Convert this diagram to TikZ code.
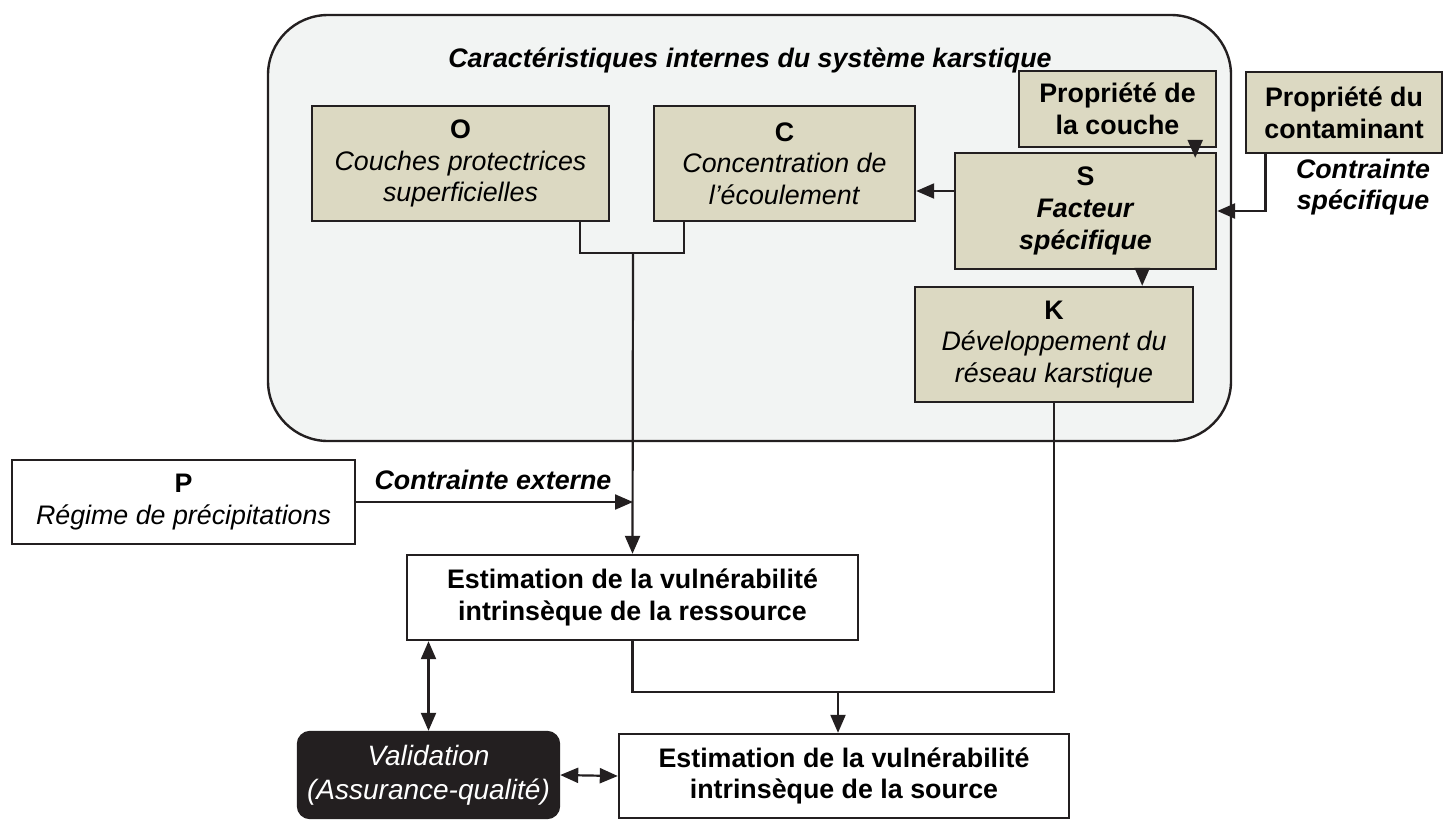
\documentclass[tikz,border=0pt]{standalone}
\usepackage{fontspec}
\setmainfont{Liberation Sans}
\usetikzlibrary{arrows.meta}
\definecolor{khaki}{RGB}{220,217,194}
\definecolor{pale}{RGB}{242,244,243}
\definecolor{ink}{RGB}{35,31,32}

\begin{document}
\begin{tikzpicture}[x=0.5pt,y=-0.5pt,
    every node/.style={font=\fontsize{13.4}{15.8}\selectfont, align=center, inner sep=0pt},
    factor/.style={draw=ink, line width=1.2pt, fill=khaki},
    result/.style={draw=ink, line width=1.2pt, fill=white},
    link/.style={draw=ink, line width=1.1pt},
    arr/.style={link, -{Triangle[length=9pt,width=7.5pt]}},
    biarr/.style={link, {Triangle[length=9pt,width=7.5pt]}-{Triangle[length=9pt,width=7.5pt]}}]
	%%%%% START %%%%%
	\useasboundingbox (0,0) rectangle (1443,820);
	
	% systeme karstique
	\draw[draw=ink, line width=1.2pt, fill=pale, rounded corners=30pt] (268,15) rectangle (1231,441);
	\node (title) at (750,60) {\textbf{\textit{Caractéristiques internes du système karstique}}};
	
	\node[factor, minimum width=148.5pt, minimum height=57.5pt] (O) at (460.5,163.5)
		{\textbf{O}\\\textit{Couches protectrices}\\\textit{superficielles}};
	\node[factor, minimum width=130.5pt, minimum height=57.5pt] (C) at (784.5,163.5)
		{\textbf{C}\\\textit{Concentration de}\\\textit{l’écoulement}};
	\node[factor, minimum width=98.5pt, minimum height=38pt] (couche) at (1117.5,109)
		{\textbf{Propriété de}\\\textbf{la couche}};
	\node[factor, minimum width=130.5pt, minimum height=58pt] (S) at (1085.5,211)
		{\textbf{S}\\\textbf{\textit{Facteur}}\\\textbf{\textit{spécifique}}};
	\node[factor, minimum width=139pt, minimum height=57.5pt] (K) at (1054,344.5)
		{\textbf{K}\\\textit{Développement du}\\\textit{réseau karstique}};
	\node[factor, minimum width=98pt, minimum height=40.5pt] (cont) at (1344,112.5)
		{\textbf{Propriété du}\\\textbf{contaminant}};
	\node (cspec) at (1363,187) {\textbf{\textit{Contrainte}}\\\textbf{\textit{spécifique}}};
	
	% contrainte externe
	\node[result, minimum width=171.5pt, minimum height=42pt] (P) at (183.5,502)
		{\textbf{P}\\\textit{Régime de précipitations}};
	\node (cext) at (493,480) {\textbf{\textit{Contrainte externe}}};
	
	% estimations
	\node[result, minimum width=225.5pt, minimum height=42.5pt] (res) at (632.5,597.5)
		{\textbf{Estimation de la vulnérabilité}\\\textbf{intrinsèque de la ressource}};
	\node[result, minimum width=225pt, minimum height=42pt] (src) at (844,776)
		{\textbf{Estimation de la vulnérabilité}\\\textbf{intrinsèque de la source}};
	\node[draw=ink, line width=1.2pt, fill=ink, text=white, rounded corners=6pt,
		minimum width=130.5pt, minimum height=43pt, font=\fontsize{14}{17}\selectfont] (val) at (428.5,775)
		{\textit{Validation}\\\textit{(Assurance-qualité)}};
	
	% liens
	\coordinate (jn) at (633,253);
	\coordinate (jn2) at (838,692);
	\draw[link] ([xshift=-15pt]O.south east) |- (jn) -| ([xshift=15.5pt]C.south west);
	\draw[arr] (jn) -- (res.north);
	\draw[arr] (P.east) -- (P.east -| jn);
	\draw[arr] ([yshift=10pt]S.west) -- ([yshift=10pt]S.west -| C.east);
	\draw[arr] ([xshift=-11pt]couche.south east) -- ([xshift=-11pt,yshift=-3pt]couche.south east |- S.north);
	\draw[arr] ([xshift=-37.5pt]S.south east) -- ([xshift=-37.5pt]S.south east |- K.north);
	\draw[arr, line width=1.4pt] ([xshift=10.5pt]cont.south west) |- (S.east);
	\draw[link] (res.south) |- (jn2) -| (K.south);
	\draw[arr] (jn2) -- (jn2 |- src.north);
	\draw[biarr] (val.north |- res.south) -- (val.north);
	\draw[biarr] (val.east) -- (src.west);
	%%%%% END %%%%%
\end{tikzpicture}
\end{document}
